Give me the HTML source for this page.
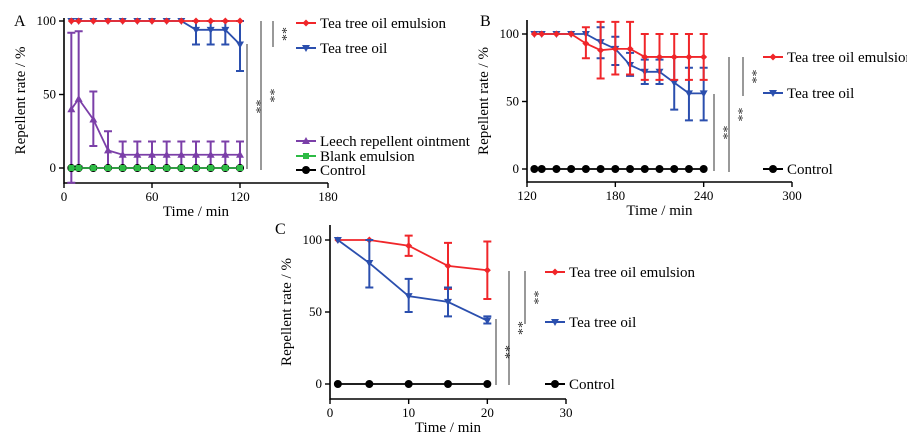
<!DOCTYPE html>
<html><head><meta charset="utf-8"><style>
body{margin:0;background:#fff}
svg{display:block;font-family:"Liberation Serif",serif}
</style></head><body>
<svg id="s" width="907" height="441" viewBox="0 0 907 441"></svg>
<script>
// ---- Panel A data ----
const aX=[5,10,20,30,40,50,60,70,80,90,100,110,120];
const aEmul=[100,100,100,100,100,100,100,100,100,100,100,100,100];
const aOil=[100,100,100,100,100,100,100,100,100,94,94,94,84];
const aOilLo=[100,100,100,100,100,100,100,100,100,84,84,84,66];
const aOilHi=[100,100,100,100,100,100,100,100,100,100,100,100,100];
const aLeech=[40,47,33,12,9,9,9,9,9,9,9,9,9];
const aLeechLo=[-10,1,15,0,0,0,0,0,0,0,0,0,0];
const aLeechHi=[92,93,52,25,18,18,18,18,18,18,18,18,18];
const aBlank=[0,0,0,0,0,0,0,0,0,0,0,0,0];
const aCtrl=[0,0,0,0,0,0,0,0,0,0,0,0,0];
const aXTicks=[0,60,120,180];
// ---- Panel B data ----
const bX=[125,130,140,150,160,170,180,190,200,210,220,230,240];
const bEmul=[100,100,100,100,93,88,89,89,83,83,83,83,83];
const bEmulLo=[100,100,100,100,82,67,70,70,66,66,66,66,66];
const bEmulHi=[100,100,100,100,105,109,109,109,100,100,100,100,100];
const bOil=[100,100,100,100,100,94,89,77,72,72,64,56,56];
const bOilLo=[100,100,100,100,100,82,77,69,63,63,44,36,36];
const bOilHi=[100,100,100,100,100,105,98,86,81,81,83,75,75];
const bCtrl=[0,0,0,0,0,0,0,0,0,0,0,0,0];
const bXTicks=[120,180,240,300];
// ---- Panel C data ----
const cX=[1,5,10,15,20];
const cEmul=[100,100,96,82,79];
const cEmulLo=[100,100,89,66,59];
const cEmulHi=[100,100,103,98,99];
const cOil=[100,84,61,57,44];
const cOilLo=[100,67,50,47,42];
const cOilHi=[100,100,73,67,47];
const cCtrl=[0,0,0,0,0];
const cXTicks=[0,10,20,30];
const yTicks=[0,50,100];

const NS="http://www.w3.org/2000/svg";
const svg=document.getElementById('s');
function el(t,a,p){const e=document.createElementNS(NS,t);for(const k in a)e.setAttribute(k,a[k]);(p||svg).appendChild(e);return e;}
function txt(x,y,s,a,p){const e=el('text',Object.assign({x:x,y:y},a),p);e.textContent=s;return e;}
function marker(g,kind,x,y,c){
  if(kind==='diamond')return el('path',{d:`M${x} ${y-3.5}L${x+3.5} ${y}L${x} ${y+3.5}L${x-3.5} ${y}Z`,fill:c},g);
  if(kind==='down')return el('path',{d:`M${x-4} ${y-3}L${x+4} ${y-3}L${x} ${y+4}Z`,fill:c},g);
  if(kind==='up')return el('path',{d:`M${x-4} ${y+3}L${x+4} ${y+3}L${x} ${y-4}Z`,fill:c},g);
  if(kind==='square')return el('rect',{x:x-3,y:y-3,width:6,height:6,fill:c},g);
  return el('circle',{cx:x,cy:y,r:4,fill:c},g);
}
function panel(cfg){
  const P=el('g',{});
  
  
  const sx=v=>cfg.x0+(v-cfg.xmin)/(cfg.xmax-cfg.xmin)*(cfg.x1-cfg.x0);
  const sy=v=>cfg.y0+(v)/(100)*(cfg.y100-cfg.y0);
  const ax=el('path',{d:`M${cfg.x0} ${cfg.ytop}V${cfg.axY}H${cfg.x1}`,stroke:'#000','stroke-width':1.6,fill:'none'},P);
  
  yTicks.forEach(t=>{el('line',{x1:cfg.x0-5,x2:cfg.x0,y1:sy(t),y2:sy(t),stroke:'#000','stroke-width':1.4},P);
    const l=txt(cfg.x0-8,sy(t)+4,t,{'font-size':13,'text-anchor':'end'},P);});
  cfg.xt.forEach(t=>{el('line',{x1:sx(t),x2:sx(t),y1:cfg.axY,y2:cfg.axY+5,stroke:'#000','stroke-width':1.4},P);
    const l=txt(sx(t),cfg.axY+18,t,{'font-size':13,'text-anchor':'middle'},P);});
  const xl=txt((cfg.x0+cfg.x1)/2,cfg.axY+33,'Time / min',{'font-size':15,'text-anchor':'middle'},P);
  
  const ym=(cfg.ytop+cfg.axY)/2;
  const yl=txt(cfg.ylx,ym,'Repellent rate / %',{'font-size':15,'text-anchor':'middle',transform:`rotate(-90 ${cfg.ylx} ${ym})`},P);
  
  const pl=txt(cfg.lab[0],cfg.lab[1],cfg.lab[2],{'font-size':16},P);
  
  cfg.series.forEach(s=>{
    const g=el('g',{},P);
    
    
    if(s.lo){s.xs.forEach((x,i)=>{const X=sx(x),a=sy(s.lo[i]),b=sy(s.hi[i]);
      if(Math.abs(a-b)<1)return;
      el('path',{d:`M${X} ${a}V${b}M${X-4} ${a}H${X+4}M${X-4} ${b}H${X+4}`,stroke:s.c,'stroke-width':2,fill:'none'},g);});}
    el('polyline',{points:s.xs.map((x,i)=>sx(x)+','+sy(s.v[i])).join(' '),stroke:s.c,'stroke-width':s.w||1.8,fill:'none'},g);
    s.xs.forEach((x,i)=>marker(g,s.m,sx(x),sy(s.v[i]),s.c));
  });
  cfg.sig.forEach(z=>{const g=el('g',{},P);
    
    
    el('line',{x1:z[0],x2:z[0],y1:z[1],y2:z[2],stroke:'#333','stroke-width':1},g);
    const m=(z[1]+z[2])/2;
    txt(z[0]+5,m,'**',{'font-size':14,'text-anchor':'middle',transform:`rotate(90 ${z[0]+5} ${m})`,fill:'#333'},g);
  });
  cfg.legend.forEach(L=>{const g=el('g',{},P);
    
    
    el('line',{x1:L[0],x2:L[0]+20,y1:L[1],y2:L[1],stroke:L[3],'stroke-width':2},g);
    marker(g,L[4],L[0]+10,L[1],L[3]);
    txt(L[0]+24,L[1]+5,L[2],{'font-size':15},g);
  });
}
const R='#f0262a',B='#2b4fae',Pu='#7b3fa8',G='#2dbb45',K='#000';
panel({name:'panel-a',x0:64,x1:328,xmin:0,xmax:180,y0:168,y100:21,ytop:18,axY:183,xt:aXTicks,ylx:25,lab:[14,26,'A'],
 series:[
  {id:'leech',xs:aX,v:aLeech,lo:aLeechLo,hi:aLeechHi,c:Pu,m:'up'},
  {id:'oil',xs:aX,v:aOil,lo:aOilLo,hi:aOilHi,c:B,m:'down'},
  {id:'emulsion',xs:aX,v:aEmul,c:R,m:'diamond'},
  {id:'control',xs:aX,v:aCtrl,c:K,m:'circle'},
  {id:'blank',xs:aX,v:aBlank,c:G,m:'square',w:1.5}],
 sig:[[247,44,169],[261,21,170],[273,21,47]],
 legend:[[296,23,'Tea tree oil emulsion',R,'diamond'],[296,48,'Tea tree oil',B,'down'],[296,141,'Leech repellent ointment',Pu,'up'],[296,156,'Blank emulsion',G,'square'],[296,170,'Control',K,'circle']]});
panel({name:'panel-b',x0:527,x1:792,xmin:120,xmax:300,y0:169,y100:34,ytop:20,axY:182,xt:bXTicks,ylx:488,lab:[480,26,'B'],
 series:[
  {id:'oil',xs:bX,v:bOil,lo:bOilLo,hi:bOilHi,c:B,m:'down'},
  {id:'emulsion',xs:bX,v:bEmul,lo:bEmulLo,hi:bEmulHi,c:R,m:'diamond'},
  {id:'control',xs:bX,v:bCtrl,c:K,m:'circle'}],
 sig:[[714,94,171],[729,57,172],[743,57,96]],
 legend:[[763,57,'Tea tree oil emulsion',R,'diamond'],[763,93,'Tea tree oil',B,'down'],[763,169,'Control',K,'circle']]});
panel({name:'panel-c',x0:330,x1:566,xmin:0,xmax:30,y0:384,y100:240,ytop:225,axY:399,xt:cXTicks,ylx:291,lab:[275,234,'C'],
 series:[
  {id:'emulsion',xs:cX,v:cEmul,lo:cEmulLo,hi:cEmulHi,c:R,m:'diamond'},
  {id:'oil',xs:cX,v:cOil,lo:cOilLo,hi:cOilHi,c:B,m:'down'},
  {id:'control',xs:cX,v:cCtrl,c:K,m:'circle'}],
 sig:[[496,319,385],[509,271,385],[525,271,324]],
 legend:[[545,272,'Tea tree oil emulsion',R,'diamond'],[545,322,'Tea tree oil',B,'down'],[545,384,'Control',K,'circle']]});
</script>
</body></html>
